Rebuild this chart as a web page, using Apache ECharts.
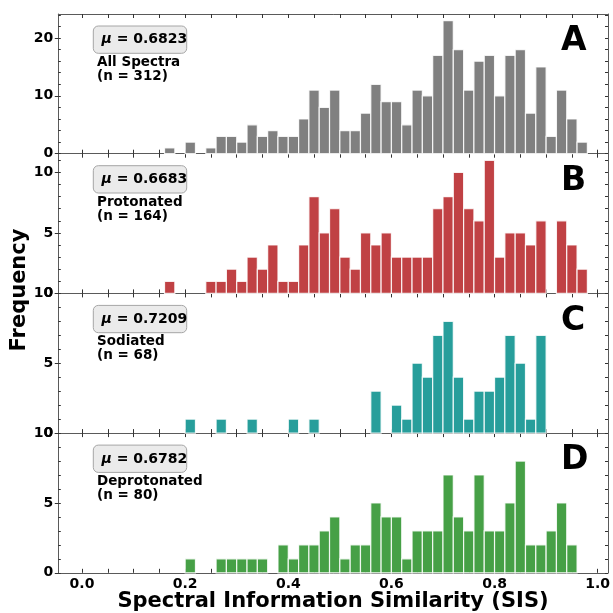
<!DOCTYPE html>
<html>
<head>
<meta charset="utf-8">
<title>Spectral Information Similarity</title>
<script src="https://cdn.jsdelivr.net/npm/echarts@6/dist/echarts.min.js"></script>
<style>
  html, body { margin: 0; padding: 0; background: #fff; }
  #chart { width: 613px; height: 613px; }
</style>
</head>
<body>
<div id="chart"></div>
<script>
// histogram bins: lower edges, width 0.02
const binStarts = [
  0.00, 0.02, 0.04, 0.06, 0.08, 0.10, 0.12, 0.14, 0.16, 0.18,
  0.20, 0.22, 0.24, 0.26, 0.28, 0.30, 0.32, 0.34, 0.36, 0.38,
  0.40, 0.42, 0.44, 0.46, 0.48, 0.50, 0.52, 0.54, 0.56, 0.58,
  0.60, 0.62, 0.64, 0.66, 0.68, 0.70, 0.72, 0.74, 0.76, 0.78,
  0.80, 0.82, 0.84, 0.86, 0.88, 0.90, 0.92, 0.94, 0.96, 0.98
];
const binWidth = 0.02;

// counts per bin
const countsAll = [
  0, 0, 0, 0, 0, 0, 0, 0, 1, 0,
  2, 0, 1, 3, 3, 2, 5, 3, 4, 3,
  3, 6, 11, 8, 11, 4, 4, 7, 12, 9,
  9, 5, 11, 10, 17, 23, 18, 11, 16, 17,
  10, 17, 18, 7, 15, 3, 11, 6, 2, 0
];
const countsProtonated = [
  0, 0, 0, 0, 0, 0, 0, 0, 1, 0,
  0, 0, 1, 1, 2, 1, 3, 2, 4, 1,
  1, 4, 8, 5, 7, 3, 2, 5, 4, 5,
  3, 3, 3, 3, 7, 8, 10, 7, 6, 11,
  3, 5, 5, 4, 6, 0, 6, 4, 2, 0
];
const countsSodiated = [
  0, 0, 0, 0, 0, 0, 0, 0, 0, 0,
  1, 0, 0, 1, 0, 0, 1, 0, 0, 0,
  1, 0, 1, 0, 0, 0, 0, 0, 3, 0,
  2, 1, 5, 4, 7, 8, 4, 1, 3, 3,
  4, 7, 5, 1, 7, 0, 0, 0, 0, 0
];
const countsDeprotonated = [
  0, 0, 0, 0, 0, 0, 0, 0, 0, 0,
  1, 0, 0, 1, 1, 1, 1, 1, 0, 2,
  1, 2, 2, 3, 4, 1, 2, 2, 5, 4,
  4, 1, 3, 3, 3, 7, 4, 3, 7, 3,
  3, 5, 8, 2, 2, 3, 5, 2, 0, 0
];

const panelCounts = [countsAll, countsProtonated, countsSodiated, countsDeprotonated];
const panelLetters = ['A', 'B', 'C', 'D'];
const panelNames = ['All Spectra', 'Protonated', 'Sodiated', 'Deprotonated'];
const panelN = [312, 164, 68, 80];
const panelMeans = ['0.6823', '0.6683', '0.7209', '0.6782'];
const panelColors = ['#808080', '#c04144', '#279e9b', '#46a046'];
const yMax = [24.15, 11.55, 10, 10];

// tick positions
const xLabelTicks = [0.0, 0.2, 0.4, 0.6, 0.8, 1.0];
const xMinorTicks = [0, 0.05, 0.1, 0.15, 0.2, 0.25, 0.3, 0.35, 0.4, 0.45, 0.5,
  0.55, 0.6, 0.65, 0.7, 0.75, 0.8, 0.85, 0.9, 0.95, 1.0];
const yLabelTicks = [[0, 10, 20], [0, 5, 10], [0, 5, 10], [0, 5, 10]];
const yMinorTicks = [
  [0, 2, 4, 6, 8, 10, 12, 14, 16, 18, 20, 22, 24],
  [0, 1, 2, 3, 4, 5, 6, 7, 8, 9, 10, 11],
  [0, 1, 2, 3, 4, 5, 6, 7, 8, 9, 10],
  [0, 1, 2, 3, 4, 5, 6, 7, 8, 9, 10]
];

const xLabel = 'Spectral Information Similarity (SIS)';
const yLabel = 'Frequency';

// layout
const plotLeft = 58.3;
const plotRight = 608;
const plotTop = 14;
const panelH = 139.7;
const FONT = 'DejaVu Sans';
const frameColor = '#5a5a5a';
const tickColor = '#333';

const chart = echarts.init(document.getElementById('chart'));

const grids = [];
const xAxes = [];
const yAxes = [];
const series = [];
const graphics = [];

function renderBar(color) {
  return function (params, api) {
    const start = api.value(0);
    const count = api.value(1);
    if (!count) return;
    const tl = api.coord([start, count]);
    const br = api.coord([start + binWidth, 0]);
    return {
      type: 'rect',
      shape: { x: tl[0], y: tl[1], width: br[0] - tl[0], height: br[1] - tl[1] },
      style: { fill: color, stroke: 'rgba(255,255,255,0.85)', lineWidth: 1.2 }
    };
  };
}

for (let i = 0; i < 4; i++) {
  const top = plotTop + i * panelH;
  grids.push({
    left: plotLeft, top: top, width: plotRight - plotLeft, height: panelH,
    outerBoundsMode: 'none', containLabel: false
  });

  // bottom & top x axes
  ['bottom', 'top'].forEach(function (pos) {
    xAxes.push({
      gridIndex: i, type: 'value', position: pos, min: -0.046, max: 1.02,
      axisLine: { show: true, onZero: false, lineStyle: { color: frameColor, width: 1 } },
      axisTick: { show: true, inside: true, length: 4, customValues: xMinorTicks,
        lineStyle: { color: tickColor, width: 1 } },
      axisLabel: {
        show: pos === 'bottom' && i === 3, customValues: xLabelTicks,
        formatter: function (v) { return v.toFixed(1); },
        margin: 5, fontSize: 14, fontWeight: 'bold', fontFamily: FONT, color: '#000'
      },
      splitLine: { show: false }
    });
  });

  // left axis: labels + outward major ticks
  yAxes.push({
    gridIndex: i, type: 'value', position: 'left', min: 0, max: yMax[i],
    axisLine: { show: true, onZero: false, lineStyle: { color: frameColor, width: 1 } },
    axisTick: { show: true, inside: false, length: 3.5, customValues: yLabelTicks[i],
      lineStyle: { color: tickColor, width: 1 } },
    axisLabel: { customValues: yLabelTicks[i], margin: 5, fontSize: 14, fontWeight: 'bold',
      fontFamily: FONT, color: '#000' },
    splitLine: { show: false }
  });
  // left axis: inward small ticks
  yAxes.push({
    gridIndex: i, type: 'value', position: 'left', min: 0, max: yMax[i],
    axisLine: { show: false, onZero: false },
    axisTick: { show: true, inside: true, length: 2.5, customValues: yMinorTicks[i],
      lineStyle: { color: tickColor, width: 1 } },
    axisLabel: { show: false },
    splitLine: { show: false }
  });
  // right axis
  yAxes.push({
    gridIndex: i, type: 'value', position: 'right', min: 0, max: yMax[i],
    axisLine: { show: true, onZero: false, lineStyle: { color: frameColor, width: 1 } },
    axisTick: { show: true, inside: true, length: 3, customValues: yMinorTicks[i],
      lineStyle: { color: tickColor, width: 1 } },
    axisLabel: { show: false },
    splitLine: { show: false }
  });

  series.push({
    type: 'custom',
    xAxisIndex: 2 * i,
    yAxisIndex: 3 * i,
    silent: true,
    data: binStarts.map(function (b, k) { return [b, panelCounts[i][k]]; }),
    renderItem: renderBar(panelColors[i])
  });

  // annotation box
  graphics.push({
    type: 'rect', z: 10,
    shape: { x: 93.3, y: top + 12, width: 93.4, height: 27.3, r: 5 },
    style: { fill: '#ebebeb', stroke: '#a6a6a6', lineWidth: 1 }
  });
  graphics.push({
    type: 'text', z: 11, x: 101.5, y: top + 25.8,
    style: {
      text: '{m|μ} = ' + panelMeans[i],
      fontSize: 14, fontWeight: 'bold', fontFamily: FONT, fill: '#000',
      align: 'left', verticalAlign: 'middle',
      rich: { m: { fontStyle: 'italic', fontWeight: 'bold', fontSize: 14, fontFamily: FONT, fill: '#000' } }
    }
  });
  graphics.push({
    type: 'text', z: 11, x: 97, y: top + 48.5,
    style: { text: panelNames[i], fontSize: 13.5, fontWeight: 'bold', fontFamily: FONT,
      fill: '#000', align: 'left', verticalAlign: 'middle' }
  });
  graphics.push({
    type: 'text', z: 11, x: 97, y: top + 62.5,
    style: { text: '(n = ' + panelN[i] + ')', fontSize: 13.5, fontWeight: 'bold', fontFamily: FONT,
      fill: '#000', align: 'left', verticalAlign: 'middle' }
  });
  graphics.push({
    type: 'text', z: 11, x: 561, y: top + 27.8,
    style: { text: panelLetters[i], fontSize: 33, fontWeight: 'bold', fontFamily: FONT,
      fill: '#000', align: 'left', verticalAlign: 'middle' }
  });
}

graphics.push({
  type: 'text', x: 333, y: 601.5,
  style: { text: xLabel, fontSize: 21, fontWeight: 'bold', fontFamily: FONT, fill: '#000',
    align: 'center', verticalAlign: 'middle' }
});
graphics.push({
  type: 'text', x: 20, y: 290, rotation: Math.PI / 2,
  style: { text: yLabel, fontSize: 21, fontWeight: 'bold', fontFamily: FONT, fill: '#000',
    align: 'center', verticalAlign: 'middle' }
});

chart.setOption({
  animation: false,
  backgroundColor: '#fff',
  grid: grids,
  xAxis: xAxes,
  yAxis: yAxes,
  series: series,
  graphic: graphics
});
</script>
</body>
</html>
